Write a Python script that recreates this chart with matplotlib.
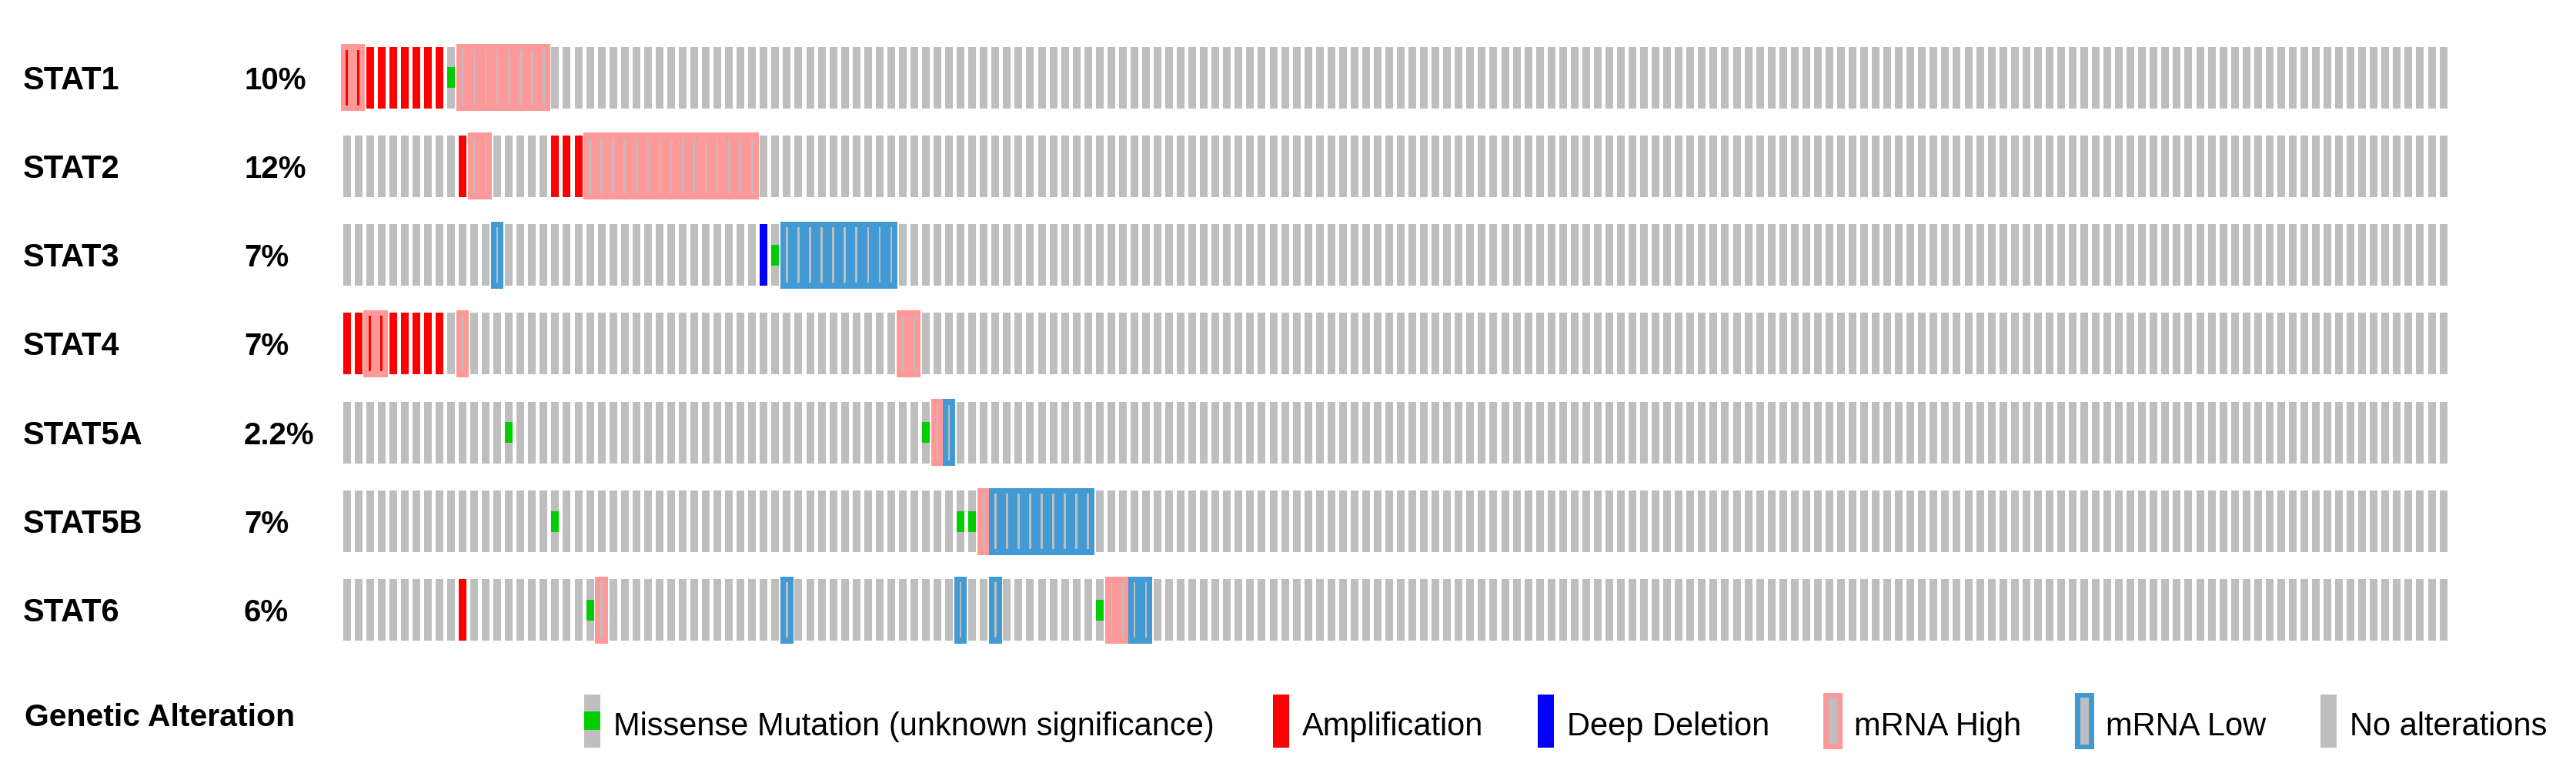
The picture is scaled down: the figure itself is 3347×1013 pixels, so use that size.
import numpy as np
import matplotlib
matplotlib.use('Agg')
import matplotlib.pyplot as plt
from matplotlib.transforms import blended_transform_factory

plt.rcParams['font.family'] = ['Liberation Sans', 'DejaVu Sans']

# oncoprint data: column indices (samples) per gene and alteration type
genes = ['STAT1', 'STAT2', 'STAT3', 'STAT4', 'STAT5A', 'STAT5B', 'STAT6']
pct_labels = ['10%', '12%', '7%', '7%', '2.2%', '7%', '6%']
n_samples = 182

amplification = {
    'STAT1': [0, 1, 2, 3, 4, 5, 6, 7, 8],
    'STAT2': [10, 18, 19, 20],
    'STAT4': [0, 1, 2, 3, 4, 5, 6, 7, 8],
    'STAT6': [10],
}
deep_deletion = {
    'STAT3': [36],
}
missense = {
    'STAT1': [9],
    'STAT3': [37],
    'STAT5A': [14, 50],
    'STAT5B': [18, 53, 54],
    'STAT6': [21, 65],
}
mrna_high = {
    'STAT1': [0, 1, 10, 11, 12, 13, 14, 15, 16, 17],
    'STAT2': [11, 12, 21, 22, 23, 24, 25, 26, 27, 28, 29, 30, 31, 32, 33, 34, 35],
    'STAT4': [2, 3, 10, 48, 49],
    'STAT5A': [51],
    'STAT5B': [55],
    'STAT6': [22, 66, 67],
}
mrna_low = {
    'STAT3': [13, 38, 39, 40, 41, 42, 43, 44, 45, 46, 47],
    'STAT5A': [52],
    'STAT5B': [56, 57, 58, 59, 60, 61, 62, 63, 64],
    'STAT6': [38, 53, 56, 68, 69],
}

legend_labels = ['Missense Mutation (unknown significance)', 'Amplification',
                 'Deep Deletion', 'mRNA High', 'mRNA Low', 'No alterations']

GRAY = '#BEBEBE'
RED = '#FF0000'
BLUE = '#0000FF'
GREEN = '#00CC00'
PINK = '#FF9999'
LOWBLUE = '#419AD4'

FIG_W, FIG_H = 3347, 1013
fig = plt.figure(figsize=(FIG_W / 100, FIG_H / 100), dpi=100)

# pixel geometry of one cell
col_px = 15.05
row_px = 115.3
bar_w = 10 / col_px
bar_h = 80 / row_px
box_w = 16.5 / col_px
box_h = 87 / row_px
core_w = 2.5 / col_px
core_h = 72 / row_px
mut_h = 27 / row_px

left_px, top_px = 443, 100.5 - row_px / 2
ax = fig.add_axes([left_px / FIG_W, 1 - (top_px + 7 * row_px) / FIG_H,
                   n_samples * col_px / FIG_W, 7 * row_px / FIG_H])
ax.set_xlim(0, n_samples)
ax.set_ylim(6.5, -0.5)
ax.axis('off')

for r, g in enumerate(genes):
    x_all = np.arange(n_samples) + 0.5
    ax.bar(x_all, bar_h, width=bar_w, bottom=r - bar_h / 2, color=GRAY, linewidth=0, zorder=1)

    amp = np.array(amplification.get(g, [])) + 0.5
    if len(amp):
        ax.bar(amp, bar_h, width=bar_w, bottom=r - bar_h / 2, color=RED, linewidth=0, zorder=2)
    dele = np.array(deep_deletion.get(g, [])) + 0.5
    if len(dele):
        ax.bar(dele, bar_h, width=bar_w, bottom=r - bar_h / 2, color=BLUE, linewidth=0, zorder=2)

    for cols, c in ((mrna_high.get(g, []), PINK), (mrna_low.get(g, []), LOWBLUE)):
        if not cols:
            continue
        xs = np.array(cols) + 0.5
        ax.bar(xs, box_h, width=box_w, bottom=r - box_h / 2, color=c, linewidth=0, zorder=3)
        core_cols = [RED if i in amplification.get(g, []) else GRAY for i in cols]
        ax.bar(xs, core_h, width=core_w, bottom=r - core_h / 2, color=core_cols, linewidth=0, zorder=4)

    mis = np.array(missense.get(g, [])) + 0.5
    if len(mis):
        ax.bar(mis, mut_h, width=bar_w, bottom=r - mut_h / 2, color=GREEN, linewidth=0, zorder=5)

# gene names and percentages
tr = blended_transform_factory(fig.transFigure, ax.transData)
for r, (g, p) in enumerate(zip(genes, pct_labels)):
    ax.text(30 / FIG_W, r + 15 / row_px, g, transform=tr, fontsize=30, fontweight='bold',
            ha='left', va='baseline')
    ax.text(317 / FIG_W, r + 15 / row_px, p, transform=tr, fontsize=29, fontweight='bold',
            ha='left', va='baseline')

# legend (pixel coordinates)
lax = fig.add_axes([0, 0, 1, 1])
lax.set_xlim(0, FIG_W)
lax.set_ylim(FIG_H, 0)
lax.axis('off')
lax.text(32, 943, 'Genetic Alteration', fontsize=29.5, fontweight='bold', ha='left', va='baseline')

leg_x = [770, 1665, 2009, 2382, 2709, 3026]
leg_top, leg_h = 902, 69
gw = 21
# missense
lax.bar(leg_x[0], leg_h, width=gw, bottom=leg_top, color=GRAY, linewidth=0)
lax.bar(leg_x[0], 24, width=gw, bottom=leg_top + 22, color=GREEN, linewidth=0)
# amplification, deep deletion
lax.bar(leg_x[1], leg_h, width=gw, bottom=leg_top, color=RED, linewidth=0)
lax.bar(leg_x[2], leg_h, width=gw, bottom=leg_top, color=BLUE, linewidth=0)
# mRNA high / low
for xx, c in ((leg_x[3], PINK), (leg_x[4], LOWBLUE)):
    lax.bar(xx, leg_h + 4, width=25, bottom=leg_top - 2, color=c, linewidth=0)
    lax.bar(xx, leg_h - 8, width=11, bottom=leg_top + 4, color=GRAY, linewidth=0)
# no alterations
lax.bar(leg_x[5], leg_h, width=gw, bottom=leg_top, color=GRAY, linewidth=0)

for xx, lab in zip(leg_x, legend_labels):
    lax.text(xx + 27, 955, lab, fontsize=30, ha='left', va='baseline')

fig.savefig('out.png', dpi=100, facecolor='white')
